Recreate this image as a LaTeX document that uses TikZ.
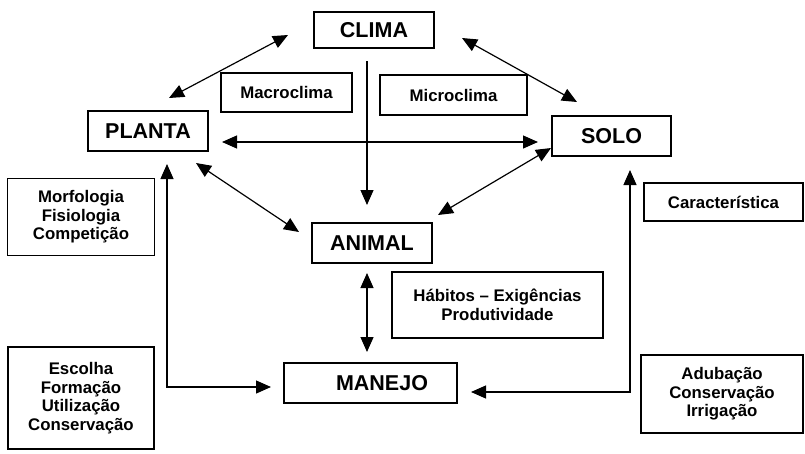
\documentclass[tikz,border=0pt]{standalone}
\usepackage{fontspec}
\setmainfont{Liberation Sans}
\usetikzlibrary{arrows.meta}
\begin{document}
\begin{tikzpicture}[x=1pt,y=-1pt,
  box/.style={draw, line width=1.3pt, inner sep=0pt, font=\bfseries\fontsize{21.5}{24}\selectfont},
  note/.style={draw, line width=1.3pt, inner sep=0pt, align=center, font=\bfseries\fontsize{16.8}{18.5}\selectfont},
  both/.style={line width=1.2pt, {Triangle[length=15pt,width=13pt]}-{Triangle[length=15pt,width=13pt]}},
  oneway/.style={line width=1.2pt, -{Triangle[length=15pt,width=13pt]}}]
\useasboundingbox (0,0) rectangle (805,453);
% main boxes
\node[box, minimum width=120pt, minimum height=36pt] (clima) at (374,30) {CLIMA};
\node[box, minimum width=120pt, minimum height=40pt] (planta) at (148,131) {PLANTA};
\node[box, minimum width=119pt, minimum height=40pt] (solo) at (611.5,136) {SOLO};
\node[box, minimum width=120pt, minimum height=40pt] (animal) at (372,243) {ANIMAL};
\node[box, minimum width=173pt, minimum height=40pt] (manejo) at (370.5,383) {\hspace*{23pt}MANEJO};
% notes
\node[note, minimum width=131pt, minimum height=39pt] (macro) at (286.5,92.5) {Macroclima};
\node[note, minimum width=147pt, minimum height=40pt] (micro) at (453.5,95) {Microclima};
\node[note, minimum width=147pt, minimum height=77pt] (morfo) at (81,217) {Morfologia\\Fisiologia\\Competição};
\node[note, minimum width=159pt, minimum height=38pt] (carac) at (723.5,202) {Característica};
\node[note, minimum width=211pt, minimum height=66pt] (habitos) at (497.5,305) {Hábitos – Exigências\\Produtividade};
\node[note, minimum width=146pt, minimum height=102pt] (escolha) at (81,398) {Escolha\\Formação\\Utilização\\Conservação};
\node[note, minimum width=162pt, minimum height=78pt] (adub) at (722,394) {Adubação\\Conservação\\Irrigação};
% connector end points
\coordinate (cpA) at (288,35);   \coordinate (cpB) at (169,98);
\coordinate (csA) at (462,38);   \coordinate (csB) at (577,102);
\coordinate (caA) at (367,61);   \coordinate (caB) at (367,205);
\coordinate (psA) at (222,142);  \coordinate (psB) at (538,142);
\coordinate (paA) at (196,163);  \coordinate (paB) at (299,232);
\coordinate (saA) at (551,148);  \coordinate (saB) at (438,215);
\coordinate (amA) at (367,273);  \coordinate (amB) at (367,352);
\coordinate (pmA) at (167,164);  \coordinate (pmC) at (167,387);  \coordinate (pmB) at (271,387);
\coordinate (smA) at (630,170);  \coordinate (smC) at (630,392);  \coordinate (smB) at (471,392);
% connectors
\draw[both] (cpA) -- (cpB);
\draw[both] (csA) -- (csB);
\draw[oneway] (caA) -- (caB);
\draw[both] (psA) -- (psB);
\draw[both] (paA) -- (paB);
\draw[both] (saA) -- (saB);
\draw[both] (amA) -- (amB);
\draw[both] (pmA) -- (pmC) -- (pmB);
\draw[both] (smA) -- (smC) -- (smB);
\end{tikzpicture}
\end{document}
